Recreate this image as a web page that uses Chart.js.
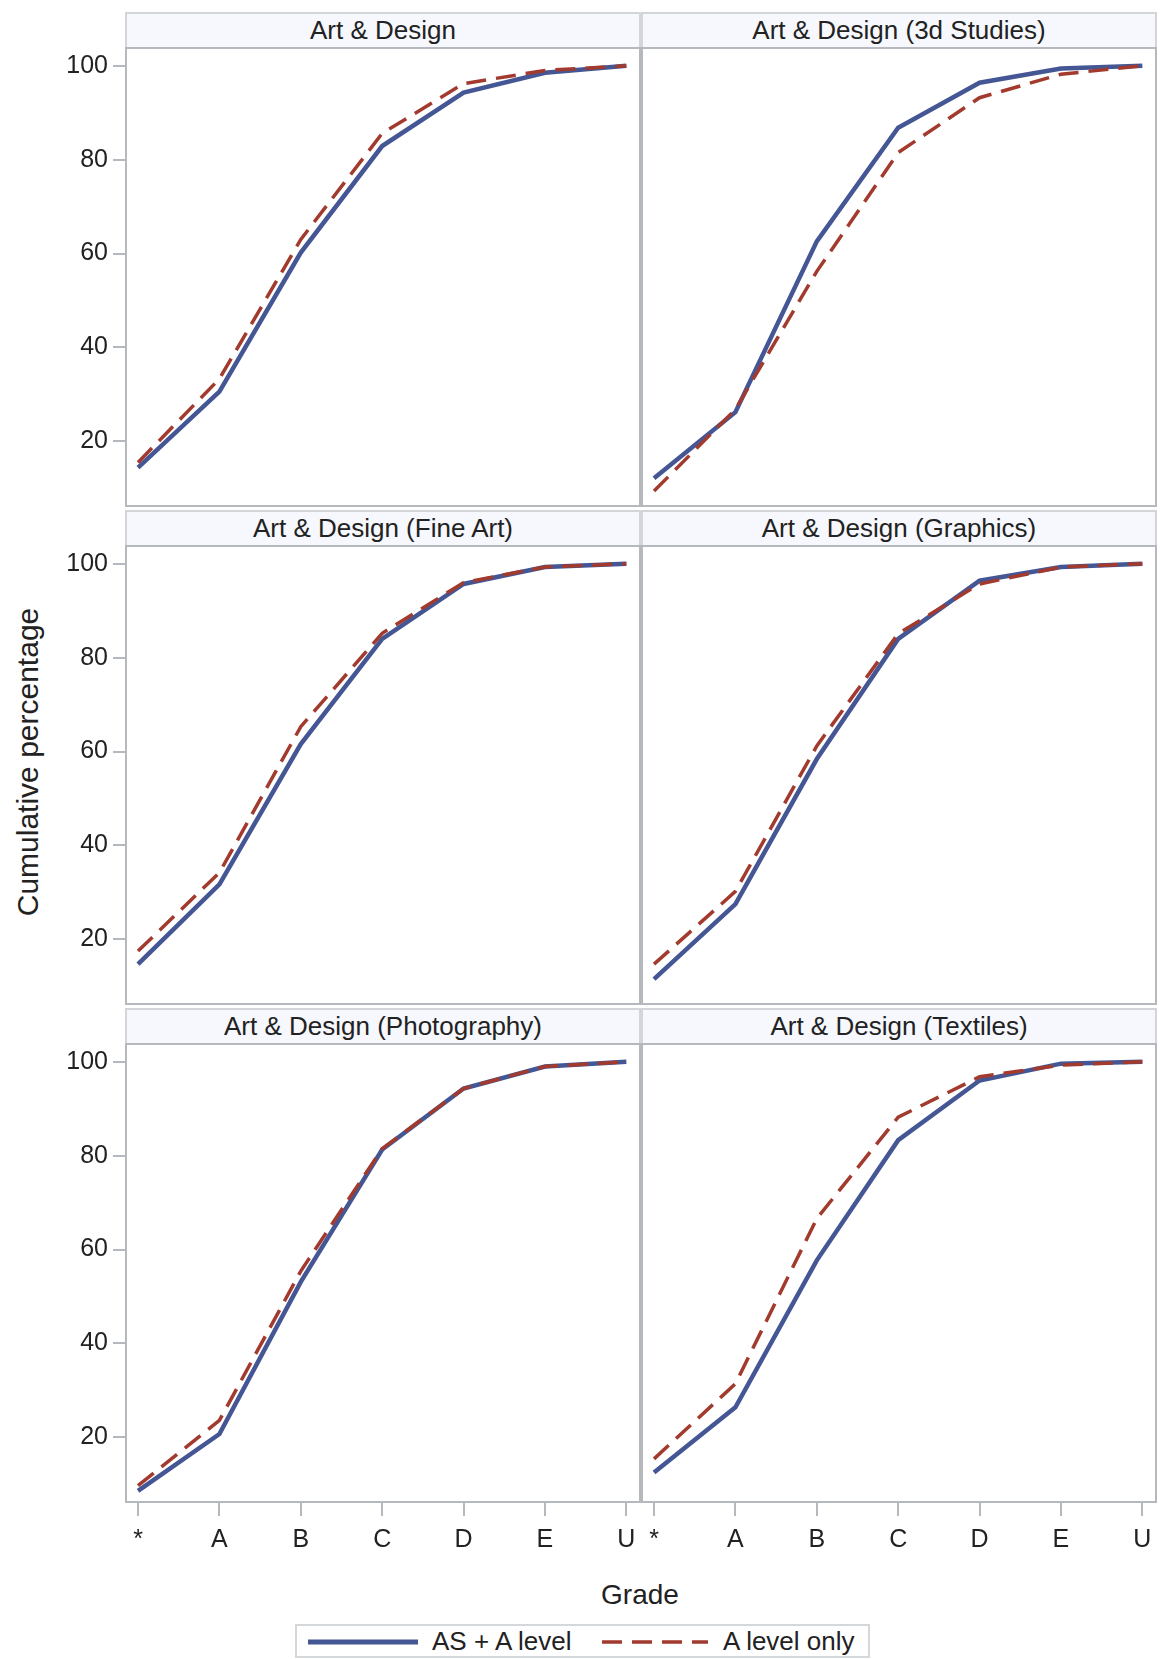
<!DOCTYPE html>
<html>
<head>
<meta charset="utf-8">
<script src="https://cdn.jsdelivr.net/npm/chart.js@4.4.0/dist/chart.umd.min.js"></script>
<style>
  html, body { margin: 0; padding: 0; background: #fff; }
  #page { position: relative; width: 1160px; height: 1659px; overflow: hidden;
          font-family: "Liberation Sans", Arial, sans-serif; color: #222; }
  .hdr { position: absolute; box-sizing: border-box; background: #f6f8fd;
         border: 2px solid #d3d6d9; border-bottom: none; text-align: center;
         font-size: 26px; line-height: 33px; white-space: nowrap; }
  .cell { position: absolute; }
  #ytitle { position: absolute; left: 28px; top: 762px; white-space: nowrap;
            transform: translate(-50%, -50%) rotate(-90deg); font-size: 30px; }
  #xtitle { position: absolute; left: 640px; top: 1595px; font-size: 28px;
            transform: translate(-50%, -50%); }
  #legend { position: absolute; left: 295px; top: 1624px; width: 575px; height: 34px;
            box-sizing: border-box; border: 2px solid #d5d8db; background: #fff; }
  #legend span { position: absolute; top: 0; font-size: 26px; line-height: 30px; }
  #legend svg { position: absolute; top: 0; }
</style>
</head>
<body>
<div id="page">
  <div id="ytitle">Cumulative percentage</div>
  <div id="xtitle">Grade</div>
  <div id="legend">
    <svg style="left:11px" width="112" height="30"><line x1="0" y1="16" x2="110" y2="16" stroke="#445694" stroke-width="5"/></svg>
    <span style="left:135px">AS + A level</span>
    <svg style="left:305px" width="108" height="30"><line x1="0" y1="16" x2="106" y2="16" stroke="#a23a2e" stroke-width="3.5" stroke-dasharray="20 10"/></svg>
    <span style="left:426px">A level only</span>
  </div>
</div>
<script>
const grades = ['*', 'A', 'B', 'C', 'D', 'E', 'U'];
const yTicks = [20, 40, 60, 80, 100];
const panelTitles = [
  'Art & Design', 'Art & Design (3d Studies)',
  'Art & Design (Fine Art)', 'Art & Design (Graphics)',
  'Art & Design (Photography)', 'Art & Design (Textiles)'
];

// AS + A level (solid blue)
const asA_artDesign   = [14.4, 30.6, 60.2, 82.9, 94.3, 98.5, 100];
const asA_3dStudies   = [12.1, 26.2, 62.6, 86.8, 96.4, 99.4, 100];
const asA_fineArt     = [14.7, 31.7, 61.6, 84.0, 95.7, 99.3, 100];
const asA_graphics    = [11.5, 27.5, 58.4, 84.0, 96.4, 99.3, 100];
const asA_photography = [8.6, 20.7, 53.1, 81.3, 94.3, 99.0, 100];
const asA_textiles    = [12.5, 26.4, 57.7, 83.3, 96.0, 99.6, 100];

// A level only (dashed red)
const aOnly_artDesign   = [15.5, 33.3, 63.0, 85.6, 96.2, 99.0, 100];
const aOnly_3dStudies   = [9.4, 26.8, 56.2, 81.5, 93.2, 98.2, 100];
const aOnly_fineArt     = [17.5, 34.2, 65.3, 85.2, 96.0, 99.3, 100];
const aOnly_graphics    = [14.7, 30.2, 61.2, 85.1, 95.7, 99.3, 100];
const aOnly_photography = [9.7, 23.6, 55.4, 81.5, 94.3, 99.0, 100];
const aOnly_textiles    = [15.4, 31.4, 66.6, 88.2, 96.8, 99.3, 100];

const asALevel = [asA_artDesign, asA_3dStudies, asA_fineArt, asA_graphics, asA_photography, asA_textiles];
const aLevelOnly = [aOnly_artDesign, aOnly_3dStudies, aOnly_fineArt, aOnly_graphics, aOnly_photography, aOnly_textiles];

const FONT = '"Liberation Sans", Arial, sans-serif';
const colLeft = [125, 641];
const plotW = 516;
const rowTop = [12, 510, 1008];
const hdrH = 35, plotH = 460;
const yW = 75, xH = 62;
const frameColor = '#b5b9bd';

const framePlugin = {
  id: 'frame',
  afterDraw(chart) {
    const a = chart.chartArea, ctx = chart.ctx;
    ctx.save();
    ctx.strokeStyle = frameColor;
    ctx.lineWidth = 2;
    ctx.strokeRect(a.left + 1, a.top + 1, a.right - a.left - 2, a.bottom - a.top - 2);
    ctx.restore();
  }
};

const page = document.getElementById('page');

panelTitles.forEach((title, i) => {
  const r = Math.floor(i / 2), c = i % 2;
  const plotLeft = colLeft[c], plotTop = rowTop[r] + hdrH;

  const hdr = document.createElement('div');
  hdr.className = 'hdr';
  hdr.style.left = plotLeft + 'px';
  hdr.style.top = rowTop[r] + 'px';
  hdr.style.width = plotW + 'px';
  hdr.style.height = hdrH + 'px';
  hdr.textContent = title;
  page.appendChild(hdr);

  const showY = c === 0, showX = r === 2;
  const cw = plotW + (showY ? yW : 0), ch = plotH + (showX ? xH : 0);
  const cell = document.createElement('div');
  cell.className = 'cell';
  cell.style.left = (plotLeft - (showY ? yW : 0)) + 'px';
  cell.style.top = plotTop + 'px';
  const cv = document.createElement('canvas');
  cv.width = cw; cv.height = ch;
  cv.style.width = cw + 'px'; cv.style.height = ch + 'px';
  cell.appendChild(cv);
  page.appendChild(cell);

  new Chart(cv, {
    type: 'line',
    data: {
      datasets: [
        {
          label: 'AS + A level',
          data: asALevel[i].map((v, k) => ({ x: k, y: v })),
          borderColor: '#445694', borderWidth: 4.5,
          pointRadius: 0, tension: 0, order: 2
        },
        {
          label: 'A level only',
          data: aLevelOnly[i].map((v, k) => ({ x: k, y: v })),
          borderColor: '#a23a2e', borderWidth: 3.5, borderDash: [20, 10],
          pointRadius: 0, tension: 0, order: 1
        }
      ]
    },
    options: {
      responsive: false,
      animation: false,
      devicePixelRatio: 1,
      layout: { padding: 0 },
      plugins: { legend: { display: false }, tooltip: { enabled: false } },
      scales: {
        x: {
          type: 'linear', min: -0.16, max: 6.18,
          display: showX,
          afterBuildTicks: a => { a.ticks = grades.map((g, k) => ({ value: k })); },
          afterFit: a => {
            a.height = showX ? xH : 0;
            a.paddingLeft = 0; a.paddingRight = 0;
          },
          grid: { drawOnChartArea: false, drawTicks: true, tickLength: 13, color: frameColor, lineWidth: 2 },
          border: { display: false },
          ticks: {
            autoSkip: false, maxRotation: 0, padding: 9, color: '#222',
            font: { size: 25, family: FONT },
            callback: v => grades[v]
          }
        },
        y: {
          type: 'linear', min: 6, max: 104,
          display: showY,
          afterBuildTicks: a => { a.ticks = yTicks.map(v => ({ value: v })); },
          afterFit: a => {
            a.width = showY ? yW : 0;
            a.paddingTop = 0; a.paddingBottom = 0;
          },
          grid: { drawOnChartArea: false, drawTicks: true, tickLength: 12, color: frameColor, lineWidth: 2 },
          border: { display: false },
          ticks: { padding: 5, color: '#222', font: { size: 25, family: FONT } }
        }
      }
    },
    plugins: [framePlugin]
  });
});
</script>
</body>
</html>
